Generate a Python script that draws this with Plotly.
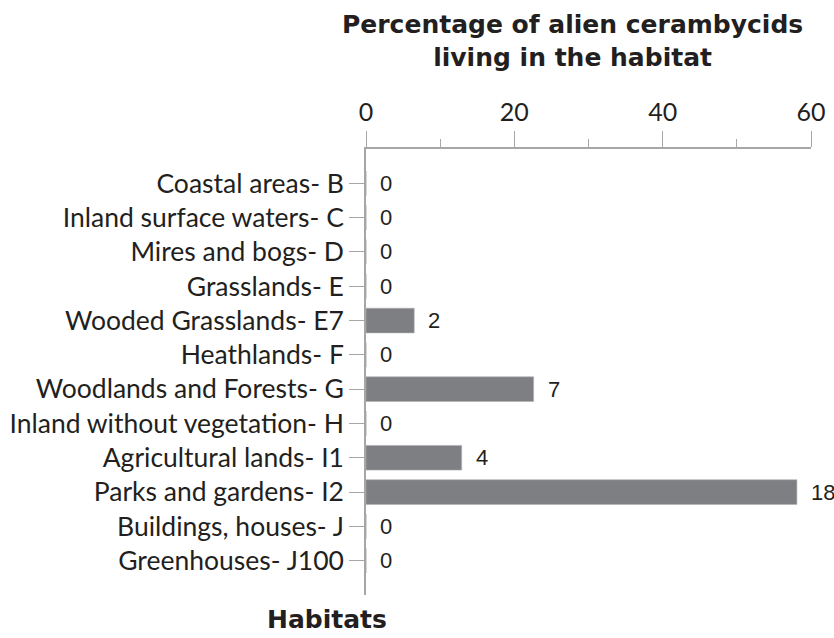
import plotly.graph_objects as go

habitats = [
    "Coastal areas- B",
    "Inland surface waters- C",
    "Mires and bogs- D",
    "Grasslands- E",
    "Wooded Grasslands- E7",
    "Heathlands- F",
    "Woodlands and Forests- G",
    "Inland without vegetation- H",
    "Agricultural lands- I1",
    "Parks and gardens- I2",
    "Buildings, houses- J",
    "Greenhouses- J100",
]
percentages = [0, 0, 0, 0, 6.5, 0, 22.6, 0, 12.9, 58.1, 0, 0]
species_counts = [0, 0, 0, 0, 2, 0, 7, 0, 4, 18, 0, 0]

x_ticks = [0, 20, 40, 60]

LABEL_FONT = "Lato, 'Open Sans', sans-serif"
BOLD_FONT = "'DejaVu Sans', 'Open Sans', sans-serif"
AXIS_GRAY = "#a6a6a6"
TEXT_COLOR = "#231f20"

fig = go.Figure()
fig.add_trace(go.Bar(
    y=habitats,
    x=percentages,
    orientation="h",
    width=0.72,
    marker=dict(color="#7e7f82", line=dict(width=0.6, color="#b0b0b0")),
    hoverinfo="skip",
))

for h, p, c in zip(habitats, percentages, species_counts):
    fig.add_annotation(
        x=p, y=h, xref="x", yref="y",
        text=str(c), showarrow=False,
        xanchor="left", yanchor="middle", xshift=12,
        font=dict(family="'Liberation Sans', Arial, sans-serif", size=22, color=TEXT_COLOR),
    )

fig.add_annotation(
    x=0.463, y=1.0, xref="paper", yref="paper",
    yshift=108, xanchor="center", yanchor="middle",
    text="<b>Percentage of alien cerambycids<br>living in the habitat</b>",
    showarrow=False, align="center",
    font=dict(family=BOLD_FONT, size=25, color=TEXT_COLOR),
)
fig.add_annotation(
    x=-0.0876, y=0.0, xref="paper", yref="paper",
    yshift=-24, xanchor="center", yanchor="middle",
    text="<b>Habitats</b>",
    showarrow=False,
    font=dict(family=BOLD_FONT, size=25, color=TEXT_COLOR),
)

fig.update_layout(
    width=834, height=638,
    margin=dict(l=366, r=23, t=149, b=43, autoexpand=False),
    paper_bgcolor="white", plot_bgcolor="white",
    showlegend=False,
)
fig.update_xaxes(
    side="top", range=[0, 60],
    tickvals=x_ticks, ticktext=[str(v) for v in x_ticks],
    ticks="outside", ticklen=16, tickcolor=AXIS_GRAY, tickwidth=1,
    minor=dict(dtick=10, tick0=0, ticks="outside", ticklen=8, tickcolor=AXIS_GRAY, showgrid=False),
    showline=True, linecolor=AXIS_GRAY, linewidth=1.5,
    showgrid=False, zeroline=False,
    tickfont=dict(family=LABEL_FONT, size=25, color=TEXT_COLOR),
)
fig.update_yaxes(
    categoryorder="array", categoryarray=habitats,
    tickvals=habitats, ticktext=habitats,
    range=[12, -1],
    ticks="outside", ticklen=15, tickcolor=AXIS_GRAY, tickwidth=1,
    showline=True, linecolor=AXIS_GRAY, linewidth=1.5,
    showgrid=False, zeroline=False,
    tickfont=dict(family=LABEL_FONT, size=26.5, color=TEXT_COLOR),
)

fig.write_html(
    "out.html",
    config={"displayModeBar": False},
    post_script="document.body.style.margin='0';document.body.style.overflow='hidden';",
)
